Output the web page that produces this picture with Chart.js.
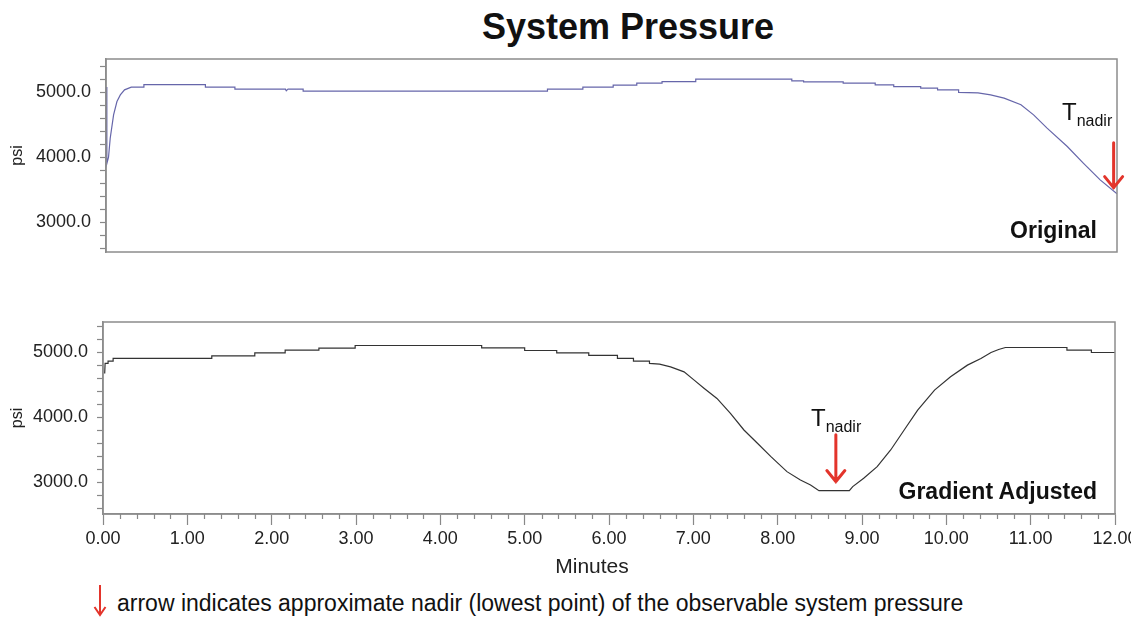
<!DOCTYPE html>
<html lang="en">
<head>
<meta charset="UTF-8">
<title>System Pressure</title>
<script src="https://cdn.jsdelivr.net/npm/chart.js@4"></script>
<style>
  body { margin: 0; background: #fff; font-family: Arial, "Liberation Sans", sans-serif; color: #111; }
  .page { position: relative; width: 1131px; height: 617px; overflow: hidden; }
  .box { position: absolute; left: 0; width: 1131px; }
  #topBox { top: 50px; height: 220px; }
  #bottomBox { top: 300px; height: 280px; }
  .title { position: absolute; left: 0; width: 1256px; top: 9px; text-align: center; font-weight: bold; font-size: 36px; line-height: 36px; }
  .tag { position: absolute; right: 34px; font-weight: bold; font-size: 23px; line-height: 23px; }
  .tnadir { position: absolute; font-size: 24px; line-height: 24px; }
  .tnadir span { font-size: 16px; position: relative; top: 6px; }
  .xtitle { position: absolute; left: 0; width: 1184px; top: 554px; text-align: center; font-size: 21px; line-height: 24px; color: #222; }
  .note { position: absolute; left: 117px; top: 589px; font-size: 23px; line-height: 28px; color: #111; }
  .noteArrow { position: absolute; left: 92px; top: 584px; }
</style>
</head>
<body>
<div class="page">
  <div class="title">System Pressure</div>
  <div class="box" id="topBox"><canvas id="topChart"></canvas></div>
  <div class="box" id="bottomBox"><canvas id="bottomChart"></canvas></div>

  <div class="tnadir" style="left:1062px; top:100px;">T<span>nadir</span></div>
  <div class="tag" style="top:219px;">Original</div>

  <div class="tnadir" style="left:811px; top:406px;">T<span>nadir</span></div>
  <div class="tag" style="top:480px;">Gradient Adjusted</div>

  <div class="xtitle">Minutes</div>

  <svg class="noteArrow" width="16" height="34" viewBox="0 0 16 34">
    <path d="M8 1 V31 M2.5 23 L8 31 L13.5 23" fill="none" stroke="#e3342b" stroke-width="2"/>
  </svg>
  <div class="note">arrow indicates approximate nadir (lowest point) of the observable system pressure</div>
</div>

<script>
// Original trace (minutes, psi)
const topTime = [0, 0.01, 0.03, 0.05, 0.09, 0.13, 0.17, 0.22, 0.3, 0.45,
  0.45, 1.18, 1.18, 1.53, 1.53, 2.13, 2.14, 2.16, 2.34, 2.34,
  5.24, 5.24, 5.66, 5.66, 6.02, 6.02, 6.3, 6.3, 6.6, 6.6,
  7.0, 7.0, 8.14, 8.14, 8.28, 8.28, 8.75, 8.75, 9.13, 9.13,
  9.35, 9.35, 9.67, 9.67, 9.87, 9.87, 10.12, 10.12, 10.35, 10.5,
  10.66, 10.86, 11.01, 11.17, 11.41, 11.6, 11.8, 12.0];
const topPsi = [5080, 3900, 4000, 4290, 4650, 4855, 4958, 5035, 5077, 5077,
  5117, 5117, 5077, 5077, 5046, 5046, 5020, 5046, 5046, 5015,
  5015, 5046, 5046, 5077, 5077, 5108, 5108, 5138, 5138, 5163,
  5163, 5200, 5200, 5174, 5174, 5158, 5158, 5138, 5138, 5112,
  5112, 5086, 5086, 5062, 5062, 5035, 5035, 4995, 4990, 4958,
  4908, 4805, 4650, 4446, 4163, 3908, 3650, 3435];

// Gradient adjusted trace (minutes, psi)
const bottomTime = [0.02, 0.025, 0.06, 0.06, 0.12, 0.12, 1.29, 1.29, 1.8, 1.8,
  2.16, 2.16, 2.56, 2.56, 2.99, 2.99, 4.49, 4.49, 5.0, 5.0,
  5.38, 5.38, 5.76, 5.76, 6.1, 6.1, 6.29, 6.29, 6.48, 6.48,
  6.6, 6.73, 6.89, 7.01, 7.13, 7.28, 7.44, 7.6, 7.76, 7.92,
  8.11, 8.27, 8.39, 8.49, 8.85, 8.89, 9.02, 9.18, 9.34, 9.5,
  9.66, 9.86, 10.05, 10.25, 10.41, 10.53, 10.62, 10.7, 11.43, 11.43,
  11.72, 11.72, 12.0];
const bottomPsi = [4677, 4831, 4831, 4866, 4866, 4908, 4908, 4948, 4948, 4994,
  4994, 5035, 5035, 5066, 5066, 5108, 5108, 5071, 5071, 5031,
  5031, 4994, 4994, 4954, 4954, 4908, 4908, 4866, 4866, 4831,
  4820, 4779, 4702, 4574, 4446, 4292, 4062, 3805, 3600, 3394,
  3163, 3035, 2958, 2870, 2870, 2932, 3062, 3240, 3497, 3805,
  4112, 4420, 4625, 4805, 4908, 5000, 5046, 5077, 5077, 5035,
  5035, 5000, 5000];

// tick labels
const psiTicks = [3000, 4000, 5000];
const psiTickLabels = ['3000.0', '4000.0', '5000.0'];
const minuteTickLabels = ['0.00', '1.00', '2.00', '3.00', '4.00', '5.00', '6.00',
  '7.00', '8.00', '9.00', '10.00', '11.00', '12.00'];

Chart.defaults.font.family = 'Arial, "Liberation Sans", sans-serif';
Chart.defaults.color = '#222';

const toPoints = (xs, ys) => xs.map((x, i) => ({ x: x, y: ys[i] }));

// box around the plot area
const plotFrame = {
  id: 'plotFrame',
  afterDraw(chart) {
    const { ctx, chartArea: a } = chart;
    ctx.save();
    ctx.strokeStyle = '#8c8c8c';
    ctx.lineWidth = 1.5;
    ctx.strokeRect(a.left, a.top, a.right - a.left, a.bottom - a.top);
    ctx.restore();
  }
};

// short ticks every 0.2 min on the x axis
const minorTicks = {
  id: 'minorTicks',
  afterDraw(chart, args, opts) {
    if (!opts.show) return;
    const { ctx, chartArea: a } = chart;
    const xs = chart.scales.x;
    ctx.save();
    ctx.strokeStyle = '#888';
    ctx.lineWidth = 1.2;
    for (let i = 1; i < 60; i++) {
      if (i % 5 === 0) continue;
      const px = Math.round(xs.getPixelForValue(i / 5)) + 0.5;
      ctx.beginPath();
      ctx.moveTo(px, a.bottom);
      ctx.lineTo(px, a.bottom + 5);
      ctx.stroke();
    }
    ctx.restore();
  }
};

// red arrow pointing at the nadir
const nadirArrow = {
  id: 'nadirArrow',
  afterDraw(chart, args, opts) {
    const { ctx } = chart;
    const x = chart.scales.x.getPixelForValue(opts.x);
    const y0 = chart.scales.y.getPixelForValue(opts.from);
    const y1 = chart.scales.y.getPixelForValue(opts.to);
    ctx.save();
    ctx.strokeStyle = '#e3342b';
    ctx.lineWidth = 3;
    ctx.lineCap = 'round';
    ctx.beginPath();
    ctx.moveTo(x, y0);
    ctx.lineTo(x, y1);
    ctx.moveTo(x - 9, y1 - 11);
    ctx.lineTo(x, y1);
    ctx.lineTo(x + 9, y1 - 11);
    ctx.stroke();
    ctx.restore();
  }
};

function psiAxis(min, max, width) {
  return {
    min: min,
    max: max,
    ticks: {
      autoSkip: false,
      padding: 9,
      color: '#222',
      font: { size: 18 },
      callback: v => {
        const i = psiTicks.indexOf(v);
        return i >= 0 ? psiTickLabels[i] : '';
      }
    },
    grid: { drawOnChartArea: false, tickLength: 6, color: '#888', tickWidth: 1.2 },
    border: { color: '#8c8c8c', width: 1.5 },
    title: { display: true, text: 'psi', font: { size: 16 }, color: '#222', padding: { top: 8, bottom: 0 } },
    // minor tick every 200 psi
    afterBuildTicks: s => {
      const t = [];
      for (let v = Math.ceil(s.min / 200) * 200; v <= s.max; v += 200) t.push({ value: v });
      s.ticks = t;
    },
    afterFit: s => { s.width = width; s.paddingTop = 0; s.paddingBottom = 0; }
  };
}

new Chart(document.getElementById('topChart'), {
  type: 'line',
  data: {
    datasets: [{
      data: toPoints(topTime, topPsi),
      borderColor: '#6666aa',
      borderWidth: 1.2,
      pointRadius: 0,
      tension: 0
    }]
  },
  options: {
    responsive: true,
    maintainAspectRatio: false,
    animation: false,
    layout: { padding: { top: 9, right: 14, bottom: 18, left: 0 } },
    plugins: {
      legend: { display: false },
      tooltip: { enabled: false },
      minorTicks: { show: false },
      nadirArrow: { x: 11.96, from: 4220, to: 3530 }
    },
    scales: {
      x: { type: 'linear', min: 0, max: 12, display: false },
      y: psiAxis(2540, 5510, 106)
    }
  },
  plugins: [plotFrame, minorTicks, nadirArrow]
});

new Chart(document.getElementById('bottomChart'), {
  type: 'line',
  data: {
    datasets: [{
      data: toPoints(bottomTime, bottomPsi),
      borderColor: '#333',
      borderWidth: 1.2,
      pointRadius: 0,
      tension: 0
    }]
  },
  options: {
    responsive: true,
    maintainAspectRatio: false,
    animation: false,
    layout: { padding: { top: 22, right: 16, bottom: 0, left: 0 } },
    plugins: {
      legend: { display: false },
      tooltip: { enabled: false },
      minorTicks: { show: true },
      nadirArrow: { x: 8.69, from: 3730, to: 3010 }
    },
    scales: {
      x: {
        type: 'linear',
        min: 0,
        max: 12,
        ticks: {
          stepSize: 1,
          autoSkip: false,
          maxRotation: 0,
          padding: 3,
          color: '#222',
          font: { size: 18 },
          callback: v => minuteTickLabels[v]
        },
        grid: { drawOnChartArea: false, tickLength: 11, color: '#888', tickWidth: 1.2 },
        border: { color: '#8c8c8c', width: 1.5 },
        afterFit: s => { s.height = 66; s.paddingLeft = 0; s.paddingRight = 0; }
      },
      y: psiAxis(2510, 5470, 103)
    }
  },
  plugins: [plotFrame, minorTicks, nadirArrow]
});
</script>
</body>
</html>
